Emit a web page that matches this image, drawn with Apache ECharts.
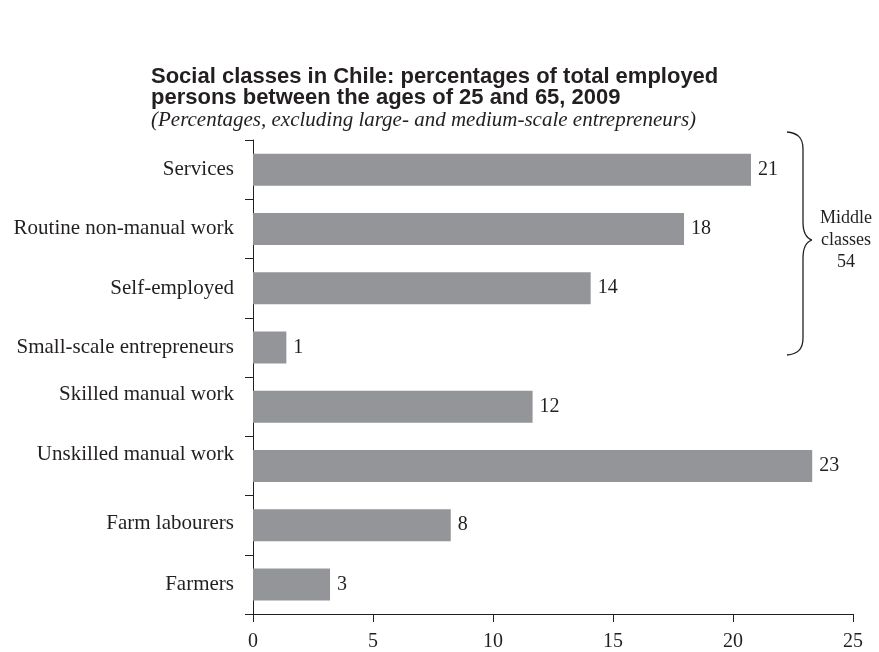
<!DOCTYPE html>
<html>
<head>
<meta charset="utf-8">
<script src="https://cdn.jsdelivr.net/npm/echarts@6/dist/echarts.min.js"></script>
<style>
  html, body { margin: 0; padding: 0; background: #fff; }
  #chart { width: 879px; height: 652px; }
</style>
</head>
<body>
<div id="chart"></div>
<script>
const categories = [
  'Services',
  'Routine non-manual work',
  'Self-employed',
  'Small-scale entrepreneurs',
  'Skilled manual work',
  'Unskilled manual work',
  'Farm labourers',
  'Farmers'
];
const values = [20.75, 17.96, 14.07, 1.39, 11.65, 23.3, 8.24, 3.21];
const valueLabels = ['21', '18', '14', '1', '12', '23', '8', '3'];
const xTicks = [0, 5, 10, 15, 20, 25];
const titleText = 'Social classes in Chile: percentages of total employed\npersons between the ages of 25 and 65, 2009';
const subtitleText = '(Percentages, excluding large- and medium-scale entrepreneurs)';
const braceText = 'Middle\nclasses\n54';

// style only: how far each category label sits above its band centre in the reference
const labelLift = [0, 0, 0, 0, 12, 11, 2, 0];

const serif = '"Liberation Serif", "DejaVu Serif", serif';
const sans = '"Liberation Sans", Arial, sans-serif';
const ink = '#231f20';

const braceStyle = { fill: 'none', stroke: ink, lineWidth: 1.3 };

const catRich = {};
labelLift.forEach((lift, i) => {
  catRich['c' + i] = {
    fontFamily: serif, fontSize: 21, color: ink,
    padding: [0, 0, lift * 2, 0]
  };
});

const chart = echarts.init(document.getElementById('chart'), null, { renderer: 'canvas' });
chart.setOption({
  animation: false,
  backgroundColor: '#ffffff',
  title: {
    text: titleText,
    subtext: subtitleText,
    left: 146,
    top: 61,
    itemGap: 0,
    textStyle: { fontFamily: sans, fontWeight: 'bold', fontSize: 22, lineHeight: 21, color: ink },
    subtextStyle: { fontFamily: serif, fontStyle: 'italic', fontSize: 21, lineHeight: 22, color: ink }
  },
  grid: { left: 253, right: 26, top: 140, bottom: 35, containLabel: false },
  xAxis: {
    type: 'value',
    min: xTicks[0],
    max: xTicks[xTicks.length - 1],
    interval: 5,
    axisLine: { show: true, lineStyle: { color: ink, width: 1 } },
    axisTick: { show: true, length: 8, lineStyle: { color: ink } },
    splitLine: { show: false },
    axisLabel: { fontFamily: serif, fontSize: 20, color: ink, margin: 18 }
  },
  yAxis: {
    type: 'category',
    data: categories,
    inverse: true,
    axisLine: { show: true, lineStyle: { color: ink, width: 1 } },
    axisTick: { show: true, length: 8, lineStyle: { color: ink } },
    axisLabel: {
      fontFamily: serif, fontSize: 21, color: ink, margin: 19,
      formatter: (v, i) => '{c' + i + '|' + v + '}',
      rich: catRich
    }
  },
  series: [{
    type: 'bar',
    data: values,
    barWidth: 32,
    itemStyle: { color: '#939598' },
    label: {
      show: true,
      position: 'right',
      distance: 7,
      fontFamily: serif,
      fontSize: 20,
      color: ink,
      formatter: p => valueLabels[p.dataIndex]
    }
  }],
  graphic: [
    { type: 'bezierCurve', shape: { x1: 787, y1: 132, cpx1: 797, cpy1: 133, cpx2: 803, cpy2: 137, x2: 803, y2: 149 }, style: braceStyle },
    { type: 'line', shape: { x1: 803, y1: 149, x2: 803, y2: 222 }, style: braceStyle },
    { type: 'bezierCurve', shape: { x1: 803, y1: 222, cpx1: 803, cpy1: 232, cpx2: 806, cpy2: 238, x2: 812, y2: 240 }, style: braceStyle },
    { type: 'bezierCurve', shape: { x1: 812, y1: 240, cpx1: 806, cpy1: 242, cpx2: 803, cpy2: 248, x2: 803, y2: 258 }, style: braceStyle },
    { type: 'line', shape: { x1: 803, y1: 258, x2: 803, y2: 338 }, style: braceStyle },
    { type: 'bezierCurve', shape: { x1: 803, y1: 338, cpx1: 803, cpy1: 350, cpx2: 797, cpy2: 354, x2: 787, y2: 355 }, style: braceStyle },
    {
      type: 'text',
      x: 846,
      y: 207,
      style: {
        text: braceText,
        fontFamily: serif,
        fontSize: 18,
        lineHeight: 22,
        fill: ink,
        align: 'center'
      }
    }
  ]
});
</script>
</body>
</html>
